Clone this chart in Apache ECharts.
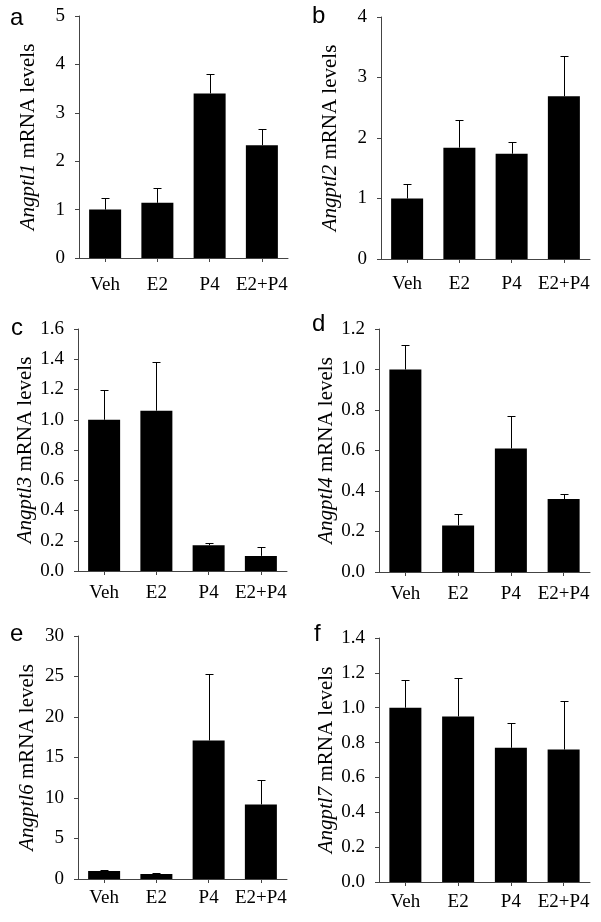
<!DOCTYPE html>
<html>
<head>
<meta charset="utf-8">
<script src="https://cdn.jsdelivr.net/npm/echarts@6/dist/echarts.min.js"></script>
<style>
html,body{margin:0;padding:0;background:#fff;}
#main{width:601px;height:922px;}
</style>
</head>
<body>
<div id="main"></div>
<script>
var categories = ['Veh', 'E2', 'P4', 'E2+P4'];

var genesA = 'Angptl1';
var meanA = [1.0, 1.14, 3.40, 2.33];
var errA  = [0.25, 0.31, 0.41, 0.34];

var genesB = 'Angptl2';
var meanB = [1.0, 1.84, 1.74, 2.69];
var errB  = [0.24, 0.46, 0.19, 0.67];

var genesC = 'Angptl3';
var meanC = [1.0, 1.06, 0.17, 0.10];
var errC  = [0.20, 0.32, 0.012, 0.06];

var genesD = 'Angptl4';
var meanD = [1.0, 0.23, 0.61, 0.36];
var errD  = [0.12, 0.055, 0.16, 0.025];

var genesE = 'Angptl6';
var meanE = [1.0, 0.62, 17.1, 9.2];
var errE  = [0.08, 0.15, 8.2, 3.0];

var genesF = 'Angptl7';
var meanF = [1.0, 0.95, 0.77, 0.76];
var errF  = [0.16, 0.22, 0.14, 0.28];

var yMax = [5, 4, 1.6, 1.2, 30, 1.4];
var yStep = [1, 1, 0.2, 0.2, 5, 0.2];
var yDecimals = [0, 0, 1, 1, 0, 1];
var panelLetters = ['a', 'b', 'c', 'd', 'e', 'f'];

var panels = [
  {gene: genesA, mean: meanA, err: errA},
  {gene: genesB, mean: meanB, err: errB},
  {gene: genesC, mean: meanC, err: errC},
  {gene: genesD, mean: meanD, err: errD},
  {gene: genesE, mean: meanE, err: errE},
  {gene: genesF, mean: meanF, err: errF}
];

// layout (pixels)
var grids = [
  {left: 79,  top: 16,  width: 209, height: 242},
  {left: 381, top: 17,  width: 209, height: 242},
  {left: 78,  top: 329, width: 209, height: 242},
  {left: 379, top: 329, width: 211, height: 243},
  {left: 78,  top: 636, width: 209, height: 243},
  {left: 379, top: 638, width: 211, height: 244}
];
var xLabelMargin = [18, 16, 13, 13, 10, 11];
var letterPos = [[10, 6], [312, 4], [11, 316], [312, 312], [10, 622], [314, 622]];

var SERIF = "'Liberation Serif', 'Times New Roman', serif";
var AXIS_COLOR = '#444';

var option = {
  backgroundColor: '#fff',
  animation: false,
  grid: [], xAxis: [], yAxis: [], series: [], graphic: []
};

panels.forEach(function (p, i) {
  option.grid.push({left: grids[i].left, top: grids[i].top, width: grids[i].width, height: grids[i].height, containLabel: false});
  option.xAxis.push({
    type: 'category', gridIndex: i, data: categories,
    axisLine: {show: true, lineStyle: {color: AXIS_COLOR, width: 1}},
    axisTick: {show: true, alignWithLabel: true, length: 4, lineStyle: {color: AXIS_COLOR}},
    axisLabel: {color: '#000', fontFamily: SERIF, fontSize: 19, margin: xLabelMargin[i], interval: 0},
    splitLine: {show: false}
  });
  option.yAxis.push({
    type: 'value', gridIndex: i, min: 0, max: yMax[i], interval: yStep[i],
    axisLine: {show: true, lineStyle: {color: AXIS_COLOR, width: 1}},
    axisTick: {show: true, length: 4, lineStyle: {color: AXIS_COLOR}},
    axisLabel: {color: '#000', fontFamily: SERIF, fontSize: 19, margin: 14,
      formatter: (function (d) { return function (v) { return v.toFixed(d); }; })(yDecimals[i])},
    splitLine: {show: false},
    name: '{i|' + p.gene + '} mRNA levels',
    nameLocation: 'middle', nameRotate: 90, nameGap: 40,
    nameTextStyle: {color: '#000', fontFamily: SERIF, fontSize: 21,
      rich: {i: {fontStyle: 'italic', fontFamily: SERIF, fontSize: 21, color: '#000'}}}
  });
  option.series.push({
    type: 'bar', xAxisIndex: i, yAxisIndex: i, data: p.mean,
    barWidth: 32, itemStyle: {color: '#000'}, silent: true
  });
  var errData = p.mean.map(function (m, k) { return [k, m, m + p.err[k]]; });
  option.series.push({
    type: 'custom', xAxisIndex: i, yAxisIndex: i, data: errData, silent: true, z: 5,
    renderItem: function (params, api) {
      var base = api.coord([api.value(0), api.value(1)]);
      var top = api.coord([api.value(0), api.value(2)]);
      var x = Math.round(base[0]) + 0.5;
      var yt = Math.round(top[1]) + 0.5;
      return {
        type: 'group',
        children: [
          {type: 'line', shape: {x1: x, y1: base[1], x2: x, y2: yt}, style: {stroke: '#000', lineWidth: 1}},
          {type: 'line', shape: {x1: x - 4, y1: yt, x2: x + 4, y2: yt}, style: {stroke: '#000', lineWidth: 1}}
        ]
      };
    }
  });
  option.graphic.push({
    type: 'text', left: letterPos[i][0], top: letterPos[i][1],
    style: {text: panelLetters[i], font: "24px 'Liberation Sans', Arial, sans-serif", fill: '#000'}
  });
});

var chart = echarts.init(document.getElementById('main'), null, {renderer: 'canvas'});
chart.setOption(option);
</script>
</body>
</html>
